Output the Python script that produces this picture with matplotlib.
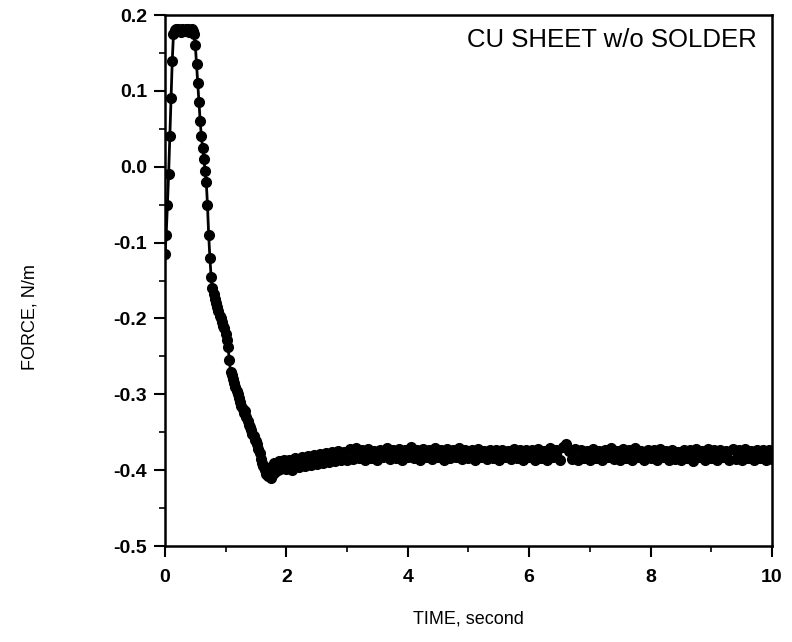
import numpy as np
import matplotlib
matplotlib.use("Agg")
import matplotlib.pyplot as plt
from matplotlib.ticker import MultipleLocator

plt.rcParams["font.family"] = ["Liberation Sans", "DejaVu Sans"]

# transient part, sampled every 0.02 s (0 .. 1.98 s)
t_transient = [round(0.02 * i, 2) for i in range(100)]
f_transient = [
    -0.115, -0.090, -0.050, -0.010, 0.040, 0.090, 0.140, 0.175,
    0.180, 0.182, 0.179, 0.181, 0.180, 0.178, 0.182, 0.180,
    0.179, 0.181, 0.180, 0.182, 0.178, 0.180, 0.181, 0.179,
    0.175, 0.160, 0.135, 0.110, 0.085, 0.060, 0.040, 0.025,
    0.010, -0.005, -0.020, -0.050, -0.090, -0.120, -0.145, -0.160,
    -0.168, -0.175, -0.180, -0.185, -0.190, -0.197, -0.200, -0.205,
    -0.210, -0.212, -0.220, -0.228, -0.238, -0.255, -0.270, -0.275,
    -0.280, -0.285, -0.290, -0.295, -0.300, -0.305, -0.310, -0.315,
    -0.320, -0.325, -0.322, -0.330, -0.335, -0.340, -0.343, -0.347,
    -0.352, -0.355, -0.360, -0.362, -0.366, -0.372, -0.378, -0.385,
    -0.390, -0.395, -0.400, -0.405, -0.398, -0.408, -0.400, -0.410,
    -0.395, -0.405, -0.390, -0.403, -0.393, -0.400, -0.388, -0.398,
    -0.390, -0.397, -0.386, -0.395,
]

# steady part, sampled every 0.05 s (2.00 .. 10.00 s)
t_steady = [round(2.0 + 0.05 * i, 2) for i in range(161)]
f_steady = [
    -0.398, -0.386, -0.400, -0.384, -0.396, -0.383, -0.395, -0.381, -0.393, -0.380,
    -0.392, -0.379, -0.391, -0.377, -0.389, -0.376, -0.388, -0.375, -0.387, -0.376,
    -0.386, -0.372, -0.385, -0.371, -0.384, -0.374, -0.386, -0.372, -0.384, -0.375,
    -0.386, -0.373, -0.383, -0.371, -0.385, -0.374, -0.384, -0.372, -0.386, -0.373,
    -0.383, -0.370, -0.384, -0.373, -0.386, -0.372, -0.383, -0.374, -0.385, -0.371,
    -0.382, -0.373, -0.386, -0.372, -0.384, -0.374, -0.383, -0.371, -0.385, -0.373,
    -0.384, -0.374, -0.386, -0.372, -0.383, -0.375, -0.385, -0.373, -0.384, -0.374,
    -0.386, -0.373, -0.383, -0.375, -0.385, -0.372, -0.384, -0.374, -0.386, -0.373,
    -0.383, -0.374, -0.387, -0.372, -0.384, -0.375, -0.386, -0.371, -0.383, -0.374,
    -0.386, -0.369, -0.365, -0.375, -0.385, -0.372, -0.387, -0.373, -0.384, -0.375,
    -0.386, -0.372, -0.384, -0.375, -0.387, -0.373, -0.383, -0.371, -0.385, -0.375,
    -0.387, -0.372, -0.384, -0.374, -0.386, -0.371, -0.383, -0.375, -0.387, -0.373,
    -0.384, -0.374, -0.387, -0.372, -0.383, -0.375, -0.386, -0.373, -0.385, -0.376,
    -0.387, -0.373, -0.384, -0.374, -0.388, -0.372, -0.383, -0.375, -0.386, -0.372,
    -0.384, -0.374, -0.387, -0.373, -0.383, -0.375, -0.386, -0.372, -0.385, -0.374,
    -0.387, -0.372, -0.384, -0.375, -0.386, -0.373, -0.384, -0.374, -0.387, -0.374,
    -0.385,
]

x_ticks = [0, 2, 4, 6, 8, 10]
y_ticks = [-0.5, -0.4, -0.3, -0.2, -0.1, 0.0, 0.1, 0.2]


def main():
    fig = plt.figure(figsize=(7.92, 6.42), dpi=100)
    ax = fig.add_axes([0.2083, 0.1495, 0.7664, 0.8271])

    t = t_transient + t_steady
    f = f_transient + f_steady
    ax.plot(t, f, color="black", lw=2, marker="o", ms=7, mec="black", mfc="black")

    ax.text(0.975, 0.975, "CU SHEET w/o SOLDER", transform=ax.transAxes,
            ha="right", va="top", fontsize=18.5)

    ax.set_xlim(0, 10)
    ax.set_ylim(-0.5, 0.2)
    ax.set_xticks(x_ticks)
    ax.set_xticklabels([str(v) for v in x_ticks])
    ax.set_yticks(y_ticks)
    ax.set_yticklabels([f"{v:.1f}" for v in y_ticks])
    ax.xaxis.set_minor_locator(MultipleLocator(1))
    ax.yaxis.set_minor_locator(MultipleLocator(0.05))
    ax.tick_params(which="major", direction="out", length=8, width=1.5, labelsize=14)
    ax.tick_params(axis="y", which="major", pad=5)
    ax.tick_params(axis="x", which="major", pad=8.5)
    ax.tick_params(which="minor", direction="out", length=4, width=1.2)
    for lab in ax.get_xticklabels() + ax.get_yticklabels():
        lab.set_fontweight("bold")
    for s in ax.spines.values():
        s.set_linewidth(1.8)

    ax.set_xlabel("TIME, second", fontsize=13)
    ax.xaxis.set_label_coords(0.5, -0.122)
    ax.set_ylabel("FORCE, N/m", fontsize=13)
    ax.yaxis.set_label_coords(-0.208, 0.431)

    fig.savefig("out.png", dpi=100)
    plt.close(fig)


if __name__ == "__main__":
    main()
